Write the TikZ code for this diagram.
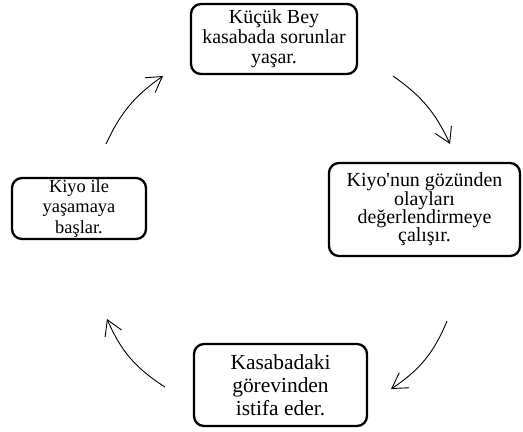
\documentclass[tikz,border=0pt]{standalone}
\usepackage{fontspec}
\setmainfont{Liberation Serif}
\usetikzlibrary{arrows.meta}

\begin{document}
\begin{tikzpicture}[x = 1bp, y = -1bp, >= {Straight Barb[length=15bp,width=18bp]},
    box/.style = {draw, line width=2.3bp, rounded corners=10bp, inner sep=0pt, align=center},
    cyc/.style = {->, line width=0.9bp}]
      \useasboundingbox (0, 0) rectangle (523, 431);
      % the four steps
      \node[box, minimum width=166bp, minimum height=70bp, font=\fontsize{20}{20}\selectfont]
        (bey) at (274, 39) {Küçük Bey\\kasabada sorunlar\\yaşar.};
      \node[box, minimum width=191bp, minimum height=93bp, font=\fontsize{20}{18.3}\selectfont]
        (kiyo) at (424.5, 209.5) {Kiyo\textquotesingle nun gözünden\\olayları\\değerlendirmeye\\çalışır.};
      \node[box, minimum width=173bp, minimum height=82bp, font=\fontsize{21.5}{23}\selectfont]
        (istifa) at (280.5, 385) {Kasabadaki\\görevinden\\istifa eder.};
      \node[box, minimum width=134bp, minimum height=61bp, font=\fontsize{18.5}{20.5}\selectfont]
        (ile) at (79, 208.5) {Kiyo ile\\yaşamaya\\başlar.};
      % arrow ends
      \coordinate (a1) at (106, 144);
      \coordinate (b1) at (163, 76);
      \coordinate (a2) at (393, 76);
      \coordinate (b2) at (450, 144);
      \coordinate (a3) at (447, 321);
      \coordinate (b3) at (391, 389);
      \coordinate (a4) at (165, 387);
      \coordinate (b4) at (107, 319);
      \draw[cyc] (a1) to[bend left=15] (b1);
      \draw[cyc] (a2) to[bend left=15] (b2);
      \draw[cyc] (a3) to[bend left=17] (b3);
      \draw[cyc] (a4) to[bend left=17] (b4);
    \end{tikzpicture}
\end{document}
